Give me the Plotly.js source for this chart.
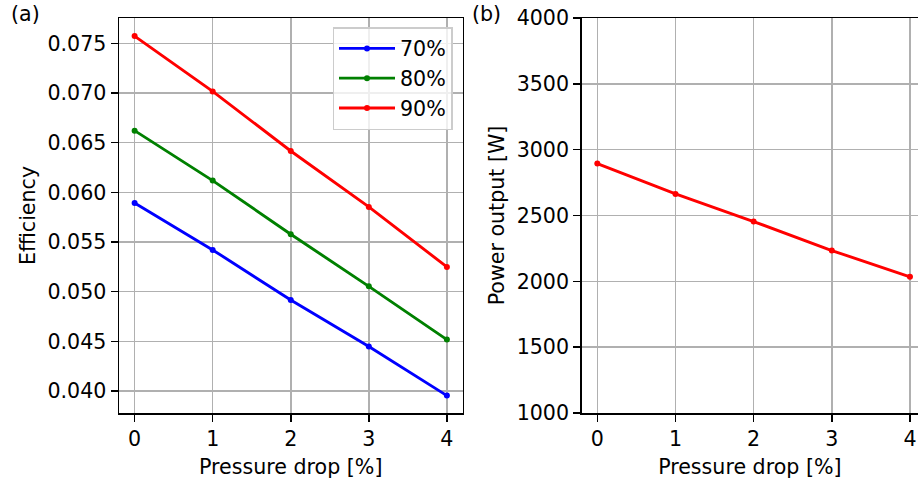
<!DOCTYPE html>
<html>
<head>
<meta charset="utf-8">
<script src="https://cdn.plot.ly/plotly-3.0.1.min.js"></script>
<style>
  html, body { margin: 0; padding: 0; background: #fff; }
  #chart { width: 918px; height: 479px; }
</style>
</head>
<body>
<div id="chart"></div>
<script>
// Pressure drop levels [%]
const pressureDrop = [0, 1, 2, 3, 4];

// Efficiency for each load level
const seriesNames = ['70%', '80%', '90%'];
const eff70 = [0.05893, 0.05420, 0.04916, 0.04447, 0.03953];
const eff80 = [0.06621, 0.06118, 0.05578, 0.05053, 0.04517];
const eff90 = [0.07573, 0.07016, 0.06416, 0.05853, 0.05249];

// Power output [W]
const power = [2894, 2664, 2454, 2234, 2034];

const FONT = 'DejaVu Sans, Verdana, sans-serif';
const FS = 20.6;
const W = 918, H = 479;
const TOP = 18, BOT = 66;
const PH = H - TOP - BOT;

const colors = ['#0000ff', '#008000', '#ff0000'];
const effSeries = [eff70, eff80, eff90];

const traces = effSeries.map((ys, i) => ({
  x: pressureDrop,
  y: ys,
  name: seriesNames[i],
  legendgroup: 'g' + i,
  type: 'scatter',
  mode: 'lines+markers',
  line: { color: colors[i], width: 2.9 },
  marker: { color: colors[i], size: 6 },
  xaxis: 'x',
  yaxis: 'y'
}));

traces.push({
  x: pressureDrop,
  y: power,
  name: 'power',
  type: 'scatter',
  mode: 'lines+markers',
  line: { color: '#ff0000', width: 2.9 },
  marker: { color: '#ff0000', size: 6 },
  showlegend: false,
  xaxis: 'x2',
  yaxis: 'y2'
});

const axisCommon = {
  showgrid: true,
  gridcolor: '#b0b0b0',
  gridwidth: 1.5,
  zeroline: false,
  showline: true,
  linecolor: '#000',
  linewidth: 1.5,
  ticks: 'outside',
  ticklen: 7,
  tickwidth: 1.5,
  tickcolor: '#000',
  tickfont: { family: FONT, size: FS, color: '#000' },
  automargin: false
};

const titleFont = { family: FONT, size: FS, color: '#000' };
const leftL = 119, leftR = 462.5, rightL = 581.7, rightR = 918;

const layout = {
  width: W,
  height: H,
  margin: { l: 0, r: 0, t: TOP, b: BOT },
  paper_bgcolor: '#fff',
  plot_bgcolor: '#fff',
  font: { family: FONT, size: FS, color: '#000' },
  showlegend: true,
  legend: {
    x: 452.5 / W, xanchor: 'right',
    y: 1 - (27 - TOP) / PH, yanchor: 'top',
    bgcolor: 'rgba(255,255,255,0.8)',
    bordercolor: '#cccccc',
    borderwidth: 1.5,
    font: { family: FONT, size: FS, color: '#000' },
    itemwidth: 56,
    tracegroupgap: 0
  },
  xaxis: Object.assign({}, axisCommon, {
    domain: [leftL / W, leftR / W],
    range: [-0.2, 4.2],
    tickvals: pressureDrop,
    ticktext: pressureDrop.map(String),
    mirror: true,
    anchor: 'y',
    title: { text: 'Pressure drop [%]', font: titleFont }
  }),
  yaxis: Object.assign({}, axisCommon, {
    domain: [0, 1],
    range: [0.03778, 0.07755],
    tickvals: [0.040, 0.045, 0.050, 0.055, 0.060, 0.065, 0.070, 0.075],
    tickformat: '.3f',
    mirror: true,
    anchor: 'x',
    title: { text: 'Efficiency', font: titleFont, standoff: 6 }
  }),
  xaxis2: Object.assign({}, axisCommon, {
    domain: [rightL / W, rightR / W],
    range: [-0.2, 4.2 - (925.6 - 918) / 78.2],
    tickvals: pressureDrop,
    ticktext: pressureDrop.map(String),
    mirror: true,
    anchor: 'y2',
    title: { text: 'Pressure drop [%]', font: titleFont }
  }),
  yaxis2: Object.assign({}, axisCommon, {
    domain: [0, 1],
    range: [1000, 4000],
    tickvals: [1000, 1500, 2000, 2500, 3000, 3500, 4000],
    mirror: false,
    anchor: 'x2',
    title: { text: 'Power output [W]', font: titleFont, standoff: 6 }
  }),
  annotations: [
    { text: '(a)', xref: 'paper', yref: 'paper', x: 9 / W, y: 1 + 4 / PH,
      xanchor: 'left', yanchor: 'middle', showarrow: false, font: titleFont },
    { text: '(b)', xref: 'paper', yref: 'paper', x: 470 / W, y: 1 + 4 / PH,
      xanchor: 'left', yanchor: 'middle', showarrow: false, font: titleFont }
  ]
};

Plotly.newPlot('chart', traces, layout, { displayModeBar: false, staticPlot: true });
</script>
</body>
</html>
